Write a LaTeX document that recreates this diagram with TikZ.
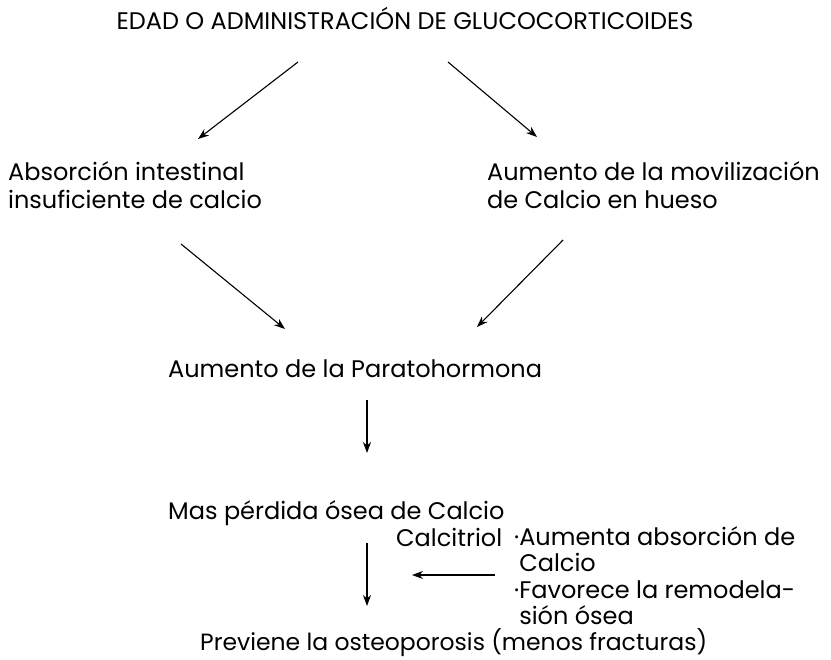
\documentclass[tikz,border=0pt]{standalone}
\usepackage{fontspec}
\setmainfont{Poppins}
\usetikzlibrary{arrows.meta}
\begin{document}
\begin{tikzpicture}[x=1pt,y=1pt,
  txt/.style={inner sep=0pt,font=\fontsize{24}{28}\selectfont,align=left},
  ttl/.style={inner sep=0pt,font=\fontsize{24}{28}\selectfont},
  arr/.style={line width=1.1pt,-{Stealth[length=11pt,width=8pt]}}]
\useasboundingbox (0,0) rectangle (831,-660);
\fill[white] (0,0) rectangle (831,-660);
\node[ttl,anchor=base] (t) at (405,-30) {EDAD O ADMINISTRACIÓN DE GLUCOCORTICOIDES};
\node[txt,anchor=base west] (abs) at (8,-209) {Absorción intestinal\\insuficiente de calcio};
\node[txt,anchor=base west] (mov) at (487,-209) {Aumento de la movilización\\de Calcio en hueso};
\node[txt,anchor=base west] (pth) at (168,-378) {Aumento de la Paratohormona};
\node[txt,anchor=base west] (mas) at (168,-520) {Mas pérdida ósea de Calcio};
\node[txt,anchor=base west] (cal) at (396,-547) {Calcitriol};
\node[txt,anchor=base west,font=\fontsize{24}{26.5}\selectfont] (bul) at (514,-624.5) {·Aumenta absorción de\\\phantom{·}Calcio\\·Favorece la remodela-\\\phantom{·}sión ósea};
\node[txt,anchor=base west,font=\fontsize{23.5}{28}\selectfont] (prev) at (200,-650) {Previene la osteoporosis (menos fracturas)};
\coordinate (a1s) at (298,-62);  \coordinate (a1e) at (198,-139);
\coordinate (a2s) at (448,-62);  \coordinate (a2e) at (537,-137);
\coordinate (a3s) at (181,-244); \coordinate (a3e) at (285,-329);
\coordinate (a4s) at (563,-240); \coordinate (a4e) at (477,-327);
\coordinate (a5s) at (367,-400); \coordinate (a5e) at (367,-453);
\coordinate (a6s) at (367,-543); \coordinate (a6e) at (367,-606);
\coordinate (a7s) at (495,-575); \coordinate (a7e) at (412,-575);
\draw[arr] (a1s) -- (a1e);
\draw[arr] (a2s) -- (a2e);
\draw[arr] (a3s) -- (a3e);
\draw[arr] (a4s) -- (a4e);
\draw[arr] (a5s) -- (a5e);
\draw[arr] (a6s) -- (a6e);
\draw[arr] (a7s) -- (a7e);
\end{tikzpicture}
\end{document}
